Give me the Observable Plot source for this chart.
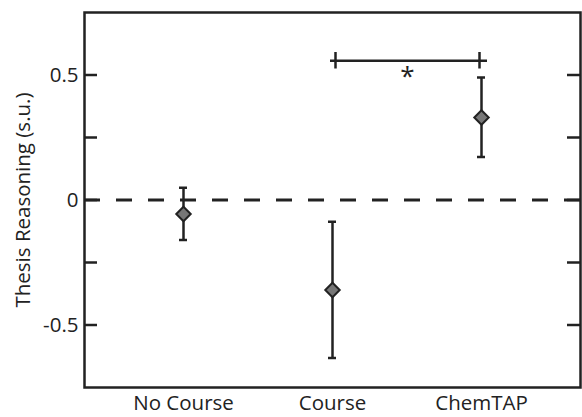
<!DOCTYPE html>
<html>
<head>
<meta charset="utf-8">
<script src="https://cdn.jsdelivr.net/npm/d3@7"></script>
<script src="https://cdn.jsdelivr.net/npm/@observablehq/plot@0.6"></script>
<style>
  html, body { margin: 0; padding: 0; background: #fff; }
  svg { display: block; }
</style>
</head>
<body>
<div id="chart"></div>
<script>
const categories = ["No Course", "Course", "ChemTAP"];
const means = [-0.056, -0.36, 0.33];
const lower = [-0.16, -0.632, 0.172];
const upper = [0.049, -0.087, 0.49];
const yTicks = [-0.5, -0.25, 0, 0.25, 0.5];
const yLabelTicks = [-0.5, 0, 0.5];
const yTitle = "Thesis Reasoning (s.u.)";
const bracket = [{from: "Course", to: "ChemTAP", y: 0.557, label: "*"}];

const data = categories.map((c, i) => ({group: c, mean: means[i], lo: lower[i], hi: upper[i]}));

const W = 582, H = 417, mL = 84, mR = 2, mT = 12, mB = 30;
const plotW = W - mL - mR;
const tickLen = 13;
const ink = "#222";
const font = "'Open Sans', sans-serif";
const fs = 20.5;

const chart = Plot.plot({
  width: W,
  height: H,
  marginLeft: mL,
  marginRight: mR,
  marginTop: mT,
  marginBottom: mB,
  style: {fontFamily: font, background: "#fff", color: ink},
  x: {type: "band", domain: categories, paddingInner: 0.9467, paddingOuter: 0.6267},
  y: {domain: [-0.75, 0.75]},
  marks: [
    Plot.ruleY([0], {stroke: ink, strokeWidth: 3, strokeDasharray: "16,16"}),
    Plot.ruleY(yTicks, {y: d => d, stroke: ink, strokeWidth: 2.5, insetRight: plotW - tickLen}),
    Plot.ruleY(yTicks, {y: d => d, stroke: ink, strokeWidth: 2.5, insetLeft: plotW - tickLen}),
    Plot.axisY(yLabelTicks, {tickSize: 0, tickPadding: 6, fontSize: fs, tickFormat: d => String(d), label: null, fill: ink}),
    Plot.axisX({tickSize: 0, tickPadding: 8, fontSize: fs, label: null, fill: ink}),
    Plot.text([yTitle], {frameAnchor: "left", textAnchor: "middle", rotate: -90, dx: -61, fontSize: fs, fill: ink}),
    Plot.ruleX(data, {x: "group", y1: "lo", y2: "hi", stroke: ink, strokeWidth: 2.5}),
    Plot.tickY(data, {x: "group", y: "lo", stroke: ink, strokeWidth: 2.5}),
    Plot.tickY(data, {x: "group", y: "hi", stroke: ink, strokeWidth: 2.5}),
    Plot.dot(data, {x: "group", y: "mean", symbol: "diamond2", r: 6.5, fill: "#777", stroke: ink, strokeWidth: 2}),
    Plot.ruleY(bracket, {x1: "from", x2: "to", y: "y", stroke: ink, strokeWidth: 2.5, dx: 2}),
    Plot.ruleX(bracket, {x: "from", y1: d => d.y - 0.033, y2: d => d.y + 0.033, stroke: ink, strokeWidth: 2.5, dx: 3}),
    Plot.ruleX(bracket, {x: "to", y1: d => d.y - 0.033, y2: d => d.y + 0.033, stroke: ink, strokeWidth: 2.5, dx: -2}),
    Plot.text(bracket, {x: "from", dx: 75, y: "y", text: "label", fontSize: 26, dy: 16, fill: ink}),
    Plot.frame({stroke: ink, strokeWidth: 2.5})
  ]
});
document.getElementById("chart").appendChild(chart);
</script>
</body>
</html>
